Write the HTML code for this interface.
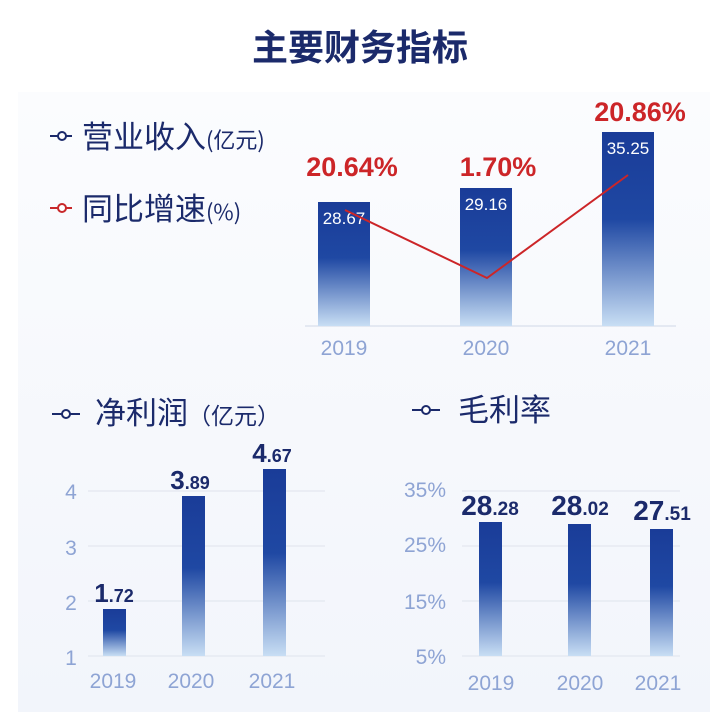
<!DOCTYPE html>
<html><head><meta charset="utf-8"><style>
body{margin:0;width:720px;height:712px;background:#fff;overflow:hidden;font-family:"Liberation Sans","Noto Sans CJK SC",sans-serif}
</style></head><body>
<svg width="720" height="712" xmlns="http://www.w3.org/2000/svg" font-family="Liberation Sans, Noto Sans CJK SC, sans-serif">
<defs>
<linearGradient id="g" x1="0" y1="0" x2="0" y2="1">
<stop offset="0" stop-color="#1a3c98"/><stop offset="0.45" stop-color="#1f48a3"/><stop offset="1" stop-color="#c8def4"/>
</linearGradient>
<linearGradient id="bg" x1="0" y1="0" x2="0" y2="1">
<stop offset="0" stop-color="#fbfcfe"/><stop offset="1" stop-color="#f2f5fb"/>
</linearGradient>
</defs>
<rect x="18" y="92" width="692" height="620" fill="url(#bg)"/>
<text x="360" y="60" text-anchor="middle" font-size="36" font-weight="bold" fill="#1b2a6b" font-family="Noto Sans CJK SC, sans-serif">主要财务指标</text>

<g stroke="#1b2a6b" stroke-width="2" fill="#fff"><line x1="50" y1="136" x2="72" y2="136"/><circle cx="62" cy="136" r="4"/></g>
<text x="82" y="148" font-size="31" fill="#1b2a6b" font-family="Noto Sans CJK SC, sans-serif">营业收入<tspan font-size="22">(亿元)</tspan></text>
<g stroke="#c8282a" stroke-width="2" fill="#fff"><line x1="50" y1="208" x2="72" y2="208"/><circle cx="62" cy="208" r="4"/></g>
<text x="82" y="220" font-size="31" fill="#1b2a6b" font-family="Noto Sans CJK SC, sans-serif">同比增速<tspan font-size="22">(%)</tspan></text>

<line x1="305" y1="326" x2="676" y2="326" stroke="#dde3ee" stroke-width="1.5"/>
<rect x="318" y="202" width="52" height="124" fill="url(#g)"/>
<rect x="460" y="188" width="52" height="138" fill="url(#g)"/>
<rect x="602" y="132" width="52" height="194" fill="url(#g)"/>
<g font-size="17" fill="#fff" text-anchor="middle"><text x="344" y="224">28.67</text><text x="486" y="210">29.16</text><text x="628" y="154">35.25</text></g>
<polyline points="345,210 487,278 628,175" fill="none" stroke="#cc2528" stroke-width="2"/>
<g font-size="27" font-weight="bold" fill="#cc2528" text-anchor="middle"><text x="352" y="176">20.64%</text><text x="498" y="176">1.70%</text><text x="640" y="121">20.86%</text></g>
<g font-size="21" fill="#8ea4d4" text-anchor="middle"><text x="344" y="355">2019</text><text x="486" y="355">2020</text><text x="628" y="355">2021</text></g>

<g stroke="#1b2a6b" stroke-width="2" fill="#fff"><line x1="52" y1="414" x2="80" y2="414"/><circle cx="66" cy="414" r="4"/></g>
<text x="95" y="424" font-size="31" fill="#1b2a6b" font-family="Noto Sans CJK SC, sans-serif">净利润<tspan font-size="23">（亿元）</tspan></text>
<g stroke="#e6eaf2" stroke-width="1.5"><line x1="88" y1="491" x2="325" y2="491"/><line x1="88" y1="546" x2="325" y2="546"/><line x1="88" y1="601" x2="325" y2="601"/><line x1="88" y1="656" x2="325" y2="656"/></g>
<g font-size="21" fill="#8ea4d4" text-anchor="middle"><text x="71" y="499">4</text><text x="71" y="555">3</text><text x="71" y="610">2</text><text x="71" y="665">1</text></g>
<rect x="103" y="609" width="23" height="47" fill="url(#g)"/>
<rect x="182" y="496" width="23" height="160" fill="url(#g)"/>
<rect x="263" y="469" width="23" height="187" fill="url(#g)"/>
<g font-weight="bold" fill="#1b2a6b" text-anchor="middle"><text x="114" y="602" font-size="26">1<tspan font-size="18">.72</tspan></text><text x="190" y="489" font-size="26">3<tspan font-size="18">.89</tspan></text><text x="272" y="462" font-size="26">4<tspan font-size="18">.67</tspan></text></g>
<g font-size="21" fill="#8ea4d4" text-anchor="middle"><text x="113" y="688">2019</text><text x="191" y="688">2020</text><text x="272" y="688">2021</text></g>

<g stroke="#1b2a6b" stroke-width="2" fill="#fff"><line x1="412" y1="410" x2="440" y2="410"/><circle cx="426" cy="410" r="4"/></g>
<text x="458" y="421" font-size="31" fill="#1b2a6b" font-family="Noto Sans CJK SC, sans-serif">毛利率</text>
<g stroke="#e6eaf2" stroke-width="1.5"><line x1="462" y1="491" x2="680" y2="491"/><line x1="462" y1="546" x2="680" y2="546"/><line x1="462" y1="601" x2="680" y2="601"/><line x1="462" y1="656" x2="680" y2="656"/></g>
<g font-size="21" fill="#8ea4d4" text-anchor="end"><text x="446" y="497">35%</text><text x="446" y="552">25%</text><text x="446" y="609">15%</text><text x="446" y="664">5%</text></g>
<rect x="479" y="522" width="23" height="134" fill="url(#g)"/>
<rect x="568" y="524" width="23" height="132" fill="url(#g)"/>
<rect x="650" y="529" width="23" height="127" fill="url(#g)"/>
<g font-weight="bold" fill="#1b2a6b" text-anchor="middle"><text x="490" y="515" font-size="28">28<tspan font-size="19">.28</tspan></text><text x="580" y="515" font-size="28">28<tspan font-size="19">.02</tspan></text><text x="662" y="520" font-size="28">27<tspan font-size="19">.51</tspan></text></g>
<g font-size="21" fill="#8ea4d4" text-anchor="middle"><text x="491" y="690">2019</text><text x="580" y="690">2020</text><text x="658" y="690">2021</text></g>
</svg>
</body></html>
